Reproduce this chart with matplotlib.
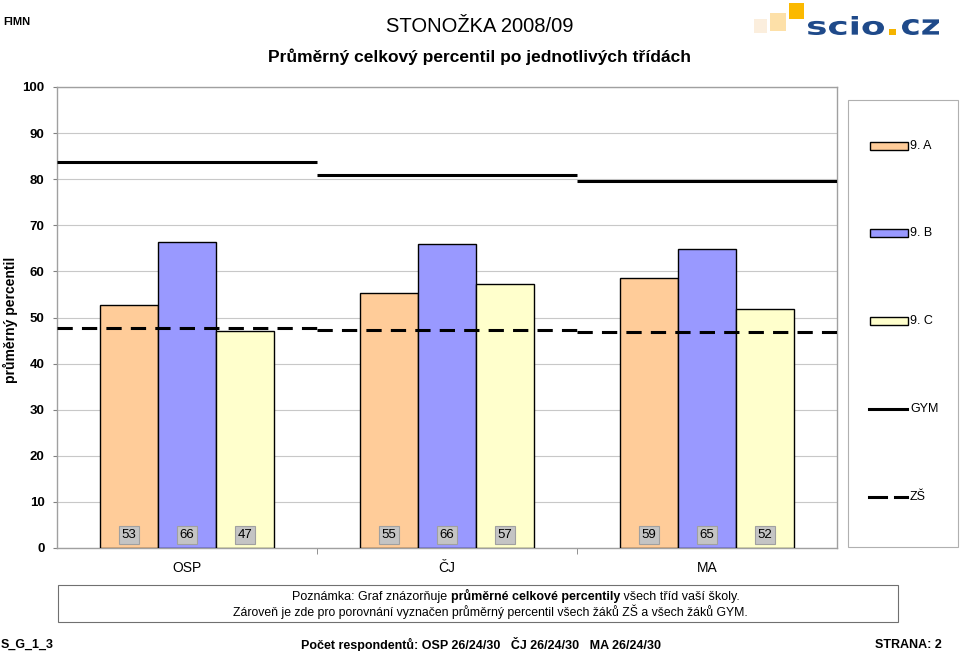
import matplotlib
matplotlib.use('Agg')
import matplotlib.pyplot as plt
import matplotlib.patches as mpatches
from matplotlib.textpath import TextPath
from matplotlib.font_manager import FontProperties
from matplotlib.transforms import Affine2D
import numpy as np

plt.rcParams['font.family'] = ['Liberation Sans', 'DejaVu Sans']

categories = ['OSP', 'ČJ', 'MA']
class_names = ['9. A', '9. B', '9. C']
class_values = [
    [53, 55, 59],   # 9. A
    [66, 66, 65],   # 9. B
    [47, 57, 52],   # 9. C
]
bar_heights = [
    [52.8, 55.4, 58.6],
    [66.3, 65.9, 64.8],
    [47.0, 57.2, 51.8],
]
gym_values = [83.7, 80.9, 79.6]
zs_values = [47.8, 47.2, 46.9]
colors = ['#ffcc99', '#9999ff', '#ffffcc']

fig = plt.figure(figsize=(9.6, 6.51), dpi=100)
W, H = 960, 651

def fx(px):
    return px / W

def fy(py):
    return 1 - py / H

ax = fig.add_axes([fx(57), fy(548), fx(837) - fx(57), fy(87) - fy(548)])

x = np.arange(len(categories))
bw = 0.223
for i in range(3):
    xs = x + (i - 1) * bw
    ax.bar(xs, bar_heights[i], width=bw, color=colors[i], edgecolor='black',
           linewidth=1.0, zorder=3)
    for xi, v in zip(xs, class_values[i]):
        ax.text(xi, 2.9, str(v), ha='center', va='center', fontsize=9.5, zorder=5,
                bbox=dict(boxstyle='square,pad=0.22', fc='#c4c4c4', ec='#a0a0a0', lw=0.8))

for i in range(len(categories)):
    ax.hlines(gym_values[i], i - 0.5, i + 0.5, colors='black', lw=2.2, zorder=4)
    ax.hlines(zs_values[i], i - 0.5, i + 0.5, colors='black', lw=2.2,
              linestyles=(0, (5, 3)), zorder=4)

ax.set_xlim(-0.5, 2.5)
ax.set_ylim(0, 100)
ax.set_yticks(range(0, 101, 10))
ax.yaxis.grid(True, color='#c8c8c8', lw=0.8, zorder=0)
ax.set_axisbelow(True)
for lbl in ax.get_yticklabels():
    lbl.set_fontweight('bold')
ax.tick_params(axis='y', length=3, labelsize=9.5, color='#808080', pad=6)
ax.set_xticks(x)
ax.set_xticklabels(categories, fontsize=10)
ax.set_xticks([0.5, 1.5], minor=True)
ax.tick_params(axis='x', which='major', length=0, pad=9)
ax.tick_params(axis='x', which='minor', length=4, color='#808080')
for s in ax.spines.values():
    s.set_color('#a0a0a0')
    s.set_linewidth(1.0)
fig.text(fx(10), fy(320), 'průměrný percentil', fontsize=10, fontweight='bold',
         rotation=90, ha='center', va='center')

# legend
lax = fig.add_axes([0, 0, 1, 1], facecolor='none')
lax.set_xlim(0, W)
lax.set_ylim(H, 0)
lax.axis('off')
lax.add_patch(mpatches.Rectangle((848, 100), 110, 447, fc='white', ec='#b0b0b0', lw=0.8))
ly = [146, 233, 321, 409, 497]
for i in range(3):
    lax.add_patch(mpatches.Rectangle((870, ly[i] - 4), 38, 8, fc=colors[i], ec='black', lw=1.0))
    lax.text(910, ly[i], class_names[i], fontsize=9, va='center', ha='left')
lax.plot([869, 907], [ly[3], ly[3]], color='black', lw=2.2)
lax.text(910, ly[3], 'GYM', fontsize=9, va='center', ha='left')
lax.plot([869, 886], [ly[4], ly[4]], color='black', lw=2.2)
lax.plot([895, 907], [ly[4], ly[4]], color='black', lw=2.2)
lax.text(910, ly[4], 'ZŠ', fontsize=9, va='center', ha='left')

# header
lax.text(3, 22, 'FIMN', fontsize=8, fontweight='bold', va='center', ha='left')
lax.text(480, 27, 'STONOŽKA 2008/09', fontsize=14.5, va='center', ha='center')
lax.text(479, 57, 'Průměrný celkový percentil po jednotlivých třídách', fontsize=12.5,
         fontweight='bold', va='center', ha='center')


# logo
def logo_word(s, x0, x1, y0, y1, color):
    tp = TextPath((0, 0), s, size=10, prop=FontProperties(family='DejaVu Sans', weight='bold'))
    ext = tp.get_extents()
    tr = Affine2D().translate(-ext.x0, -ext.y0).scale((x1 - x0) / ext.width,
                                                       -(y1 - y0) / ext.height).translate(x0, y1)
    lax.add_patch(mpatches.PathPatch(tr.transform_path(tp), fc=color, ec='none'))


lax.add_patch(mpatches.Rectangle((754, 19), 13, 14, fc='#fbeedd', ec='none'))
lax.add_patch(mpatches.Rectangle((770, 13), 16, 18, fc='#fde0a8', ec='none'))
lax.add_patch(mpatches.Rectangle((789, 3), 15, 16, fc='#fbb900', ec='none'))
logo_word('scio', 808, 884, 16, 35, '#1f4a8a')
lax.add_patch(mpatches.Rectangle((889, 29), 7, 6, fc='#f5b400', ec='none'))
logo_word('cz', 902, 939, 19, 35, '#1f4a8a')

# note box
lax.add_patch(mpatches.Rectangle((58, 585), 840, 37, fc='white', ec='#707070', lw=0.8))
t1 = lax.text(292, 597, 'Poznámka: Graf znázorňuje ', fontsize=9, va='center', ha='left')
t2 = lax.annotate('průměrné celkové percentily', xy=(1, 0), xycoords=t1, fontsize=9,
                  fontweight='bold', va='bottom', ha='left')
lax.annotate(' všech tříd vaší školy.', xy=(1, 0), xycoords=t2, fontsize=9,
             va='bottom', ha='left')
lax.text(490, 612, 'Zároveň je zde pro porovnání vyznačen průměrný percentil všech žáků ZŠ a všech žáků GYM.',
         fontsize=8.8, va='center', ha='center')

# footer
lax.text(1, 645, 'S_G_1_3', fontsize=9, fontweight='bold', va='center', ha='left')
lax.text(481, 645, 'Počet respondentů: OSP 26/24/30   ČJ 26/24/30   MA 26/24/30', fontsize=9,
         fontweight='bold', va='center', ha='center')
lax.text(942, 645, 'STRANA: 2', fontsize=9, fontweight='bold', va='center', ha='right')

fig.savefig('out.png', dpi=100)
